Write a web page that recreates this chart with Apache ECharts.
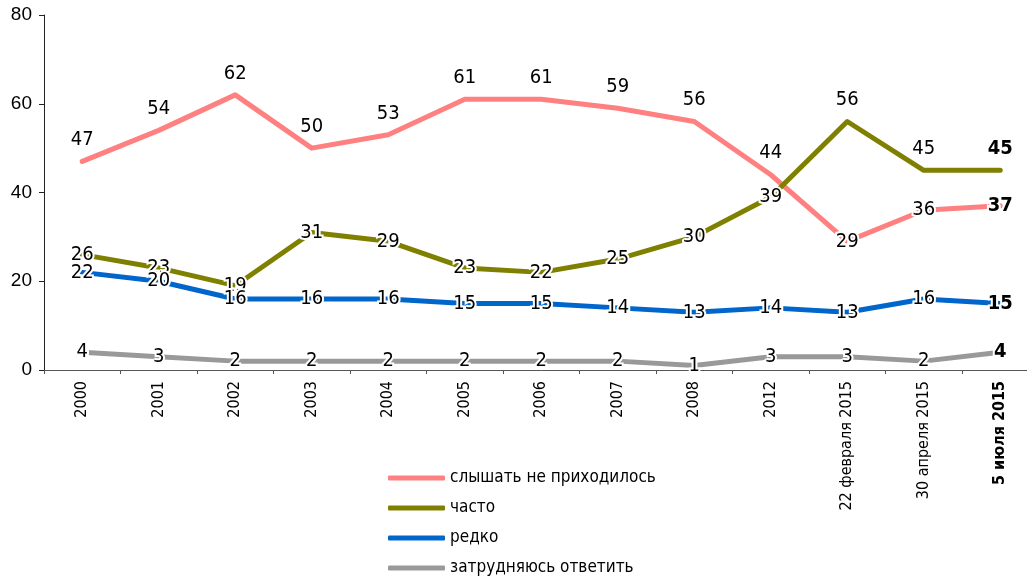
<!DOCTYPE html>
<html>
<head>
<meta charset="utf-8">
<style>
  html, body { margin: 0; padding: 0; background: #fff; overflow: hidden; }
  #chart { width: 1040px; height: 583px; }
</style>
<script src="https://cdn.jsdelivr.net/npm/echarts@6/dist/echarts.min.js"></script>
</head>
<body>
<div id="chart"></div>
<script>
// Подписи оси X
const categories = ["2000", "2001", "2002", "2003", "2004", "2005", "2006", "2007", "2008", "2012", "22 февраля 2015", "30 апреля 2015", "5 июля 2015"];

const neverHeard = [47, 54, 62, 50, 53, 61, 61, 59, 56, 44, 29, 36, 37];
const often = [26, 23, 19, 31, 29, 23, 22, 25, 30, 39, 56, 45, 45];
const rarely = [22, 20, 16, 16, 16, 15, 15, 14, 13, 14, 13, 16, 15];
const hardToSay = [4, 3, 2, 2, 2, 2, 2, 2, 1, 3, 3, 2, 4];

const seriesNames = ["слышать не приходилось", "часто", "редко", "затрудняюсь ответить"];
const yTicks = [0, 20, 40, 60, 80];

const NARROW = "'DejaVu Sans Condensed', 'Liberation Sans', sans-serif";
const lastIndex = categories.length - 1;

// индексы точек, у которых подпись стоит иначе, чем у остальных в серии
function buildPoints(values, exceptIndexes, basePosition) {
  return values.map(function (v, i) {
    const isBase = exceptIndexes.indexOf(i) === -1;
    const other = basePosition === "top" ? "inside" : "top";
    return {
      value: v,
      label: {
        position: isBase ? basePosition : other,
        fontWeight: i === lastIndex ? "bold" : "normal",
      },
    };
  });
}

function lineSeries(name, color, data) {
  return {
    name: name,
    type: "line",
    data: data,
    symbol: "circle",
    symbolSize: 1,
    showSymbol: true,
    itemStyle: { color: color },
    lineStyle: { color: color, width: 5, cap: "round", join: "round" },
    label: {
      show: true,
      distance: 11,
      color: "#000",
      fontFamily: NARROW,
      fontSize: 20,
      textBorderColor: "#fff",
      textBorderWidth: 4,
    },
    emphasis: { disabled: true },
  };
}

const chart = echarts.init(document.getElementById("chart"));

chart.setOption({
  animation: false,
  grid: { left: 44, right: 1.5, top: 15, bottom: 213 },
  legend: {
    orient: "vertical",
    left: 388,
    top: 468,
    padding: 0,
    icon: "roundRect",
    itemWidth: 57,
    itemHeight: 5,
    itemGap: 10,
    textStyle: { fontFamily: NARROW, fontSize: 17, color: "#000", lineHeight: 20 },
    data: seriesNames,
  },
  xAxis: {
    type: "category",
    data: categories,
    boundaryGap: true,
    axisLine: { lineStyle: { color: "#555", width: 1 } },
    axisTick: { show: true, length: 4, lineStyle: { color: "#555" } },
    axisLabel: {
      rotate: 90,
      margin: 11,
      interval: 0,
      color: "#000",
      fontFamily: NARROW,
      fontSize: 16,
      formatter: function (v, i) {
        return i === lastIndex ? "{b|" + v + "}" : v;
      },
      rich: { b: { fontWeight: "bold", fontFamily: NARROW, fontSize: 16 } },
    },
  },
  yAxis: {
    type: "value",
    min: yTicks[0],
    max: yTicks[yTicks.length - 1],
    interval: yTicks[1] - yTicks[0],
    axisLine: { show: true, lineStyle: { color: "#222", width: 1 } },
    axisTick: { show: true, length: 5, lineStyle: { color: "#222" } },
    axisLabel: { color: "#000", fontFamily: "'Liberation Sans', sans-serif", fontSize: 19, margin: 12 },
    splitLine: { show: false },
  },
  series: [
    lineSeries(seriesNames[0], "#FF8080", buildPoints(neverHeard, [10, 11, 12], "top")),
    lineSeries(seriesNames[1], "#808000", buildPoints(often, [10, 11, 12], "inside")),
    lineSeries(seriesNames[2], "#0066CC", buildPoints(rarely, [], "inside")),
    lineSeries(seriesNames[3], "#999999", buildPoints(hardToSay, [], "inside")),
  ],
});
</script>
</body>
</html>
